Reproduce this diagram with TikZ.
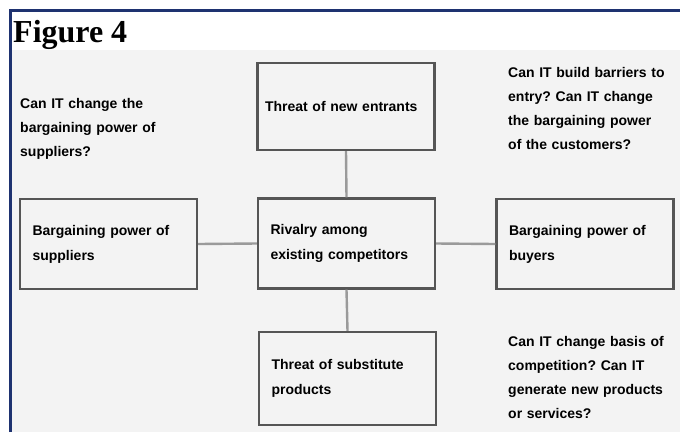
\documentclass[tikz,border=0pt]{standalone}
\usepackage{fontspec}
\setmainfont{Liberation Serif}
\newfontfamily\boxfont{Liberation Sans}
\frenchspacing
\definecolor{navy}{HTML}{1E3270}
\definecolor{bgray}{HTML}{F3F3F3}
\definecolor{edge}{HTML}{555555}
\definecolor{link}{HTML}{9A9A9A}
\tikzset{
  forcebox/.style={draw=edge, line width=2.4pt, fill=bgray, minimum width=177pt, minimum height=90pt,
    text width=152pt, inner xsep=12.5pt, align=left, font=\boxfont\bfseries\fontsize{14}{25}\selectfont},
  note/.style={anchor=north west, inner sep=0pt, text width=172pt, align=left,
    font=\boxfont\bfseries\fontsize{14}{24}\selectfont},
  link/.style={draw=link, line width=2.4pt},
  frame/.style={draw=navy, line width=3pt}
}
\begin{document}
\frenchspacing
\begin{tikzpicture}[x=1pt, y=-1pt]
\useasboundingbox (0,0) rectangle (680,432);
\fill[white] (0,0) rectangle (680,432);
\fill[bgray] (12,50) rectangle (680,432);
\draw[frame] (10.5,432) -- (10.5,10.5) -- (680,10.5);
\node[anchor=base west, inner sep=0pt, font=\bfseries\fontsize{32}{36}\selectfont] (title) at (13,42) {Figure 4};

\node[forcebox, minimum height=87pt, text width=162pt, inner xsep=7.5pt] (entrants) at (346,106.5) {Threat of new entrants};
\node[forcebox] (rivalry) at (346.5,243.5) {Rivalry among\\existing competitors};
\node[forcebox] (suppliers) at (108.5,244) {Bargaining power of\\suppliers};
\node[forcebox] (buyers) at (585,244) {Bargaining power of\\buyers};
\node[forcebox, minimum height=93pt] (substitutes) at (347.5,378.5) {Threat of substitute\\products};

\draw[link] (entrants.south) -- (rivalry.north);
\draw[link] (suppliers.east) -- (rivalry.west);
\draw[link] (rivalry.east) -- (buyers.west);
\draw[link] (rivalry.south) -- (substitutes.north);

\node[note] (q1) at (20,98) {Can IT change the\\bargaining power of\\suppliers?};
\node[note] (q2) at (508,67) {Can IT build barriers to\\entry? Can IT change\\the bargaining power\\of the customers?};
\node[note] (q3) at (508,336) {Can IT change basis of\\competition? Can IT\\generate new products\\or services?};
\end{tikzpicture}
\end{document}
